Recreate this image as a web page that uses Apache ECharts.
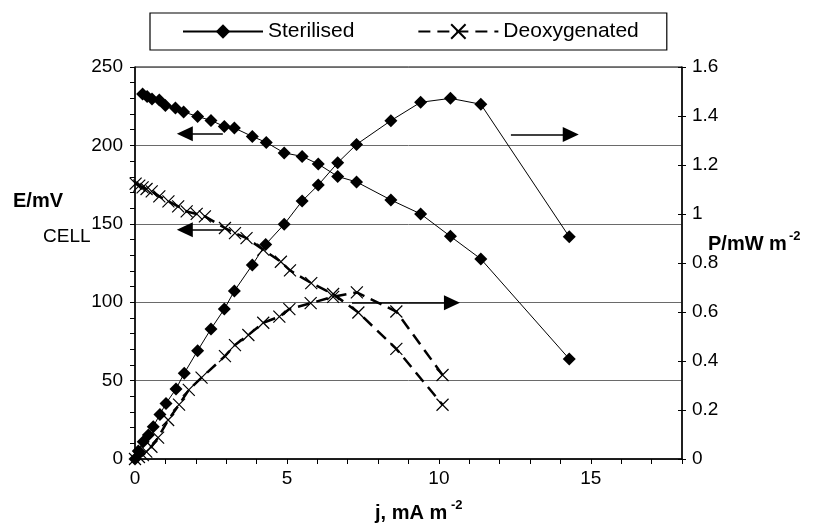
<!DOCTYPE html>
<html><head><meta charset="utf-8">
<script src="https://cdn.jsdelivr.net/npm/echarts@6/dist/echarts.min.js"></script>
<style>html,body{margin:0;padding:0;background:#fff}#c{width:837px;height:525px}</style>
</head><body><div id="c"></div>
<script>
// Sterilised
const sterE_j = [0.25, 0.4, 0.56, 0.8, 1.0, 1.33, 1.6, 2.06, 2.5, 2.94, 3.27, 3.86, 4.32, 4.91, 5.5, 6.03, 6.67, 7.29, 8.42, 9.4, 10.38, 11.38, 14.29];
const sterE   = [232.8, 231.2, 229.6, 229, 225.5, 223.9, 221.3, 218.5, 215.9, 212.1, 211.1, 205.7, 201.9, 195.2, 193, 188.1, 180.2, 176.7, 165.2, 156.3, 142, 127.6, 63.8];
const sterP_j = [0, 0.11, 0.27, 0.44, 0.6, 0.82, 1.02, 1.35, 1.62, 2.06, 2.5, 2.94, 3.27, 3.86, 4.3, 4.91, 5.5, 6.03, 6.67, 7.29, 8.42, 9.4, 10.38, 11.38, 14.29];
const sterP   = [0, 0.033, 0.07, 0.098, 0.132, 0.182, 0.227, 0.286, 0.35, 0.442, 0.531, 0.612, 0.686, 0.792, 0.876, 0.958, 1.053, 1.118, 1.209, 1.284, 1.381, 1.456, 1.472, 1.448, 0.907];
// Deoxygenated
const deoxE_j = [0.02, 0.14, 0.25, 0.38, 0.55, 0.8, 1.1, 1.42, 1.7, 2.03, 2.3, 2.96, 3.29, 3.67, 4.22, 4.8, 5.1, 5.8, 6.52, 7.35, 8.6, 10.12];
const deoxE   = [175.6, 174.3, 173.2, 172.2, 170.7, 167.5, 164.3, 161.1, 157.9, 156.3, 154.7, 147.3, 144.1, 140.9, 133.5, 125.8, 120.3, 112.2, 105.2, 93.4, 70.2, 34.6];
const deoxP_j = [0, 0.13, 0.26, 0.37, 0.54, 0.76, 1.09, 1.45, 1.77, 2.19, 2.96, 3.29, 3.73, 4.22, 4.75, 5.08, 5.78, 6.52, 7.3, 8.6, 10.12];
const deoxP   = [0, 0.008, 0.016, 0.03, 0.05, 0.087, 0.159, 0.222, 0.282, 0.332, 0.42, 0.465, 0.506, 0.556, 0.581, 0.612, 0.636, 0.662, 0.68, 0.602, 0.343];
// Axis ranges / labels
const xLabels = [0, 5, 10, 15];
const eLabels = [0, 50, 100, 150, 200, 250];
const seriesNames = ['Sterilised', 'Deoxygenated'];
// Annotation arrows: [fromX, toX, y]
const arrowsE = [[2.89, 1.64, 207.5], [2.89, 1.64, 146.2]];
const arrowsP = [[12.37, 14.34, 1.324], [7.14, 10.43, 0.638]];

const FONT = "'Liberation Sans', Arial, sans-serif";
const pair = (xs, ys) => xs.map((x, i) => [x, ys[i]]);
const crossPath = 'path://M0,0L10,10M10,0L0,10';

const arrowLines = (arr) => ({
  silent: true, animation: false,
  symbol: ['none', 'triangle'], symbolSize: [15, 16],
  label: {show: false},
  lineStyle: {color: '#000', width: 1.5, type: 'solid'},
  itemStyle: {color: '#000'},
  emphasis: {disabled: true},
  data: arr.map(a => [{coord: [a[0], a[2]]}, {coord: [a[1], a[2]]}])
});

const chart = echarts.init(document.getElementById('c'), null, {renderer: 'canvas'});
chart.setOption({
  animation: false,
  backgroundColor: '#fff',
  textStyle: {fontFamily: FONT, color: '#000'},
  grid: {left: 135, top: 67, width: 547, height: 392, show: true, borderColor: '#000', borderWidth: 1, backgroundColor: 'transparent'},
  legend: {
    left: 150, top: 13, padding: [8, 28, 8, 32], itemGap: 63, itemWidth: 80, itemHeight: 18,
    borderColor: '#000', borderWidth: 1.2, data: seriesNames,
    textStyle: {fontFamily: FONT, fontSize: 21, color: '#000'}
  },
  xAxis: {
    type: 'value', min: 0, max: 18, interval: 1,
    axisLine: {show: true, onZero: false, lineStyle: {color: '#000', width: 1.5}},
    axisTick: {show: true, length: 5, lineStyle: {color: '#000', width: 1}},
    axisLabel: {fontSize: 19, color: '#000', fontFamily: FONT, margin: 10,
      formatter: v => xLabels.includes(v) ? String(v) : ''},
    splitLine: {show: false}
  },
  yAxis: [
    {type: 'value', min: 0, max: 250, interval: 10, position: 'left',
      axisLine: {show: true, lineStyle: {color: '#000', width: 1.5}},
      axisTick: {show: true, length: 5, lineStyle: {color: '#000', width: 1}},
      axisLabel: {fontSize: 19, color: '#000', fontFamily: FONT, margin: 12,
        formatter: v => eLabels.includes(v) ? String(v) : ''},
      splitLine: {show: false}},
    {type: 'value', min: 0, max: 1.6, interval: 0.2, position: 'right',
      axisLine: {show: true, lineStyle: {color: '#000', width: 1.5}},
      axisTick: {show: true, length: 4, lineStyle: {color: '#000', width: 1}},
      axisLabel: {fontSize: 19, color: '#000', fontFamily: FONT, margin: 10,
        formatter: v => String(Math.round(v * 10) / 10)},
      splitLine: {show: false}},
    {type: 'value', min: 0, max: 250, interval: 50, position: 'left',
      axisLine: {show: false}, axisTick: {show: false}, axisLabel: {show: false},
      splitLine: {show: true, lineStyle: {color: '#6a6a6a', width: 1}}},
    {type: 'value', min: 0, max: 1.6, interval: 0.2, position: 'right',
      axisLine: {show: false}, axisLabel: {show: false}, splitLine: {show: false},
      axisTick: {show: true, inside: true, length: 4, lineStyle: {color: '#000', width: 1}}}
  ],
  series: [
    {name: seriesNames[0], type: 'line', yAxisIndex: 0, data: pair(sterE_j, sterE),
      symbol: 'diamond', symbolSize: 13, showAllSymbol: true,
      lineStyle: {color: '#000', width: 1}, itemStyle: {color: '#000'},
      markLine: arrowLines(arrowsE)},
    {name: seriesNames[0], type: 'line', yAxisIndex: 1, data: pair(sterP_j, sterP),
      symbol: 'diamond', symbolSize: 13, showAllSymbol: true,
      lineStyle: {color: '#000', width: 1}, itemStyle: {color: '#000'},
      markLine: arrowLines(arrowsP)},
    {name: seriesNames[1], type: 'line', yAxisIndex: 0, data: pair(deoxE_j, deoxE),
      symbol: crossPath, symbolSize: 12, showAllSymbol: true,
      lineStyle: {color: '#000', width: 2.5, type: [12, 7]},
      itemStyle: {color: 'none', borderColor: '#000', borderWidth: 1.2}},
    {name: seriesNames[1], type: 'line', yAxisIndex: 1, data: pair(deoxP_j, deoxP),
      symbol: crossPath, symbolSize: 12, showAllSymbol: true,
      lineStyle: {color: '#000', width: 2.5, type: [12, 7]},
      itemStyle: {color: 'none', borderColor: '#000', borderWidth: 1.2}}
  ],
  graphic: [
    {type: 'text', left: 13, top: 191, style: {text: 'E/mV', font: 'bold 20px ' + FONT, fill: '#000'}},
    {type: 'text', left: 43, top: 227, style: {text: 'CELL', font: '19px ' + FONT, fill: '#000'}},
    {type: 'text', left: 708, top: 234, style: {text: 'P/mW m', font: 'bold 20px ' + FONT, fill: '#000'}},
    {type: 'text', left: 789, top: 230, style: {text: '-2', font: 'bold 13px ' + FONT, fill: '#000'}},
    {type: 'text', left: 375, top: 503, style: {text: 'j, mA m', font: 'bold 20px ' + FONT, fill: '#000'}},
    {type: 'text', left: 451, top: 499, style: {text: '-2', font: 'bold 13px ' + FONT, fill: '#000'}}
  ]
});
</script>
</body></html>
